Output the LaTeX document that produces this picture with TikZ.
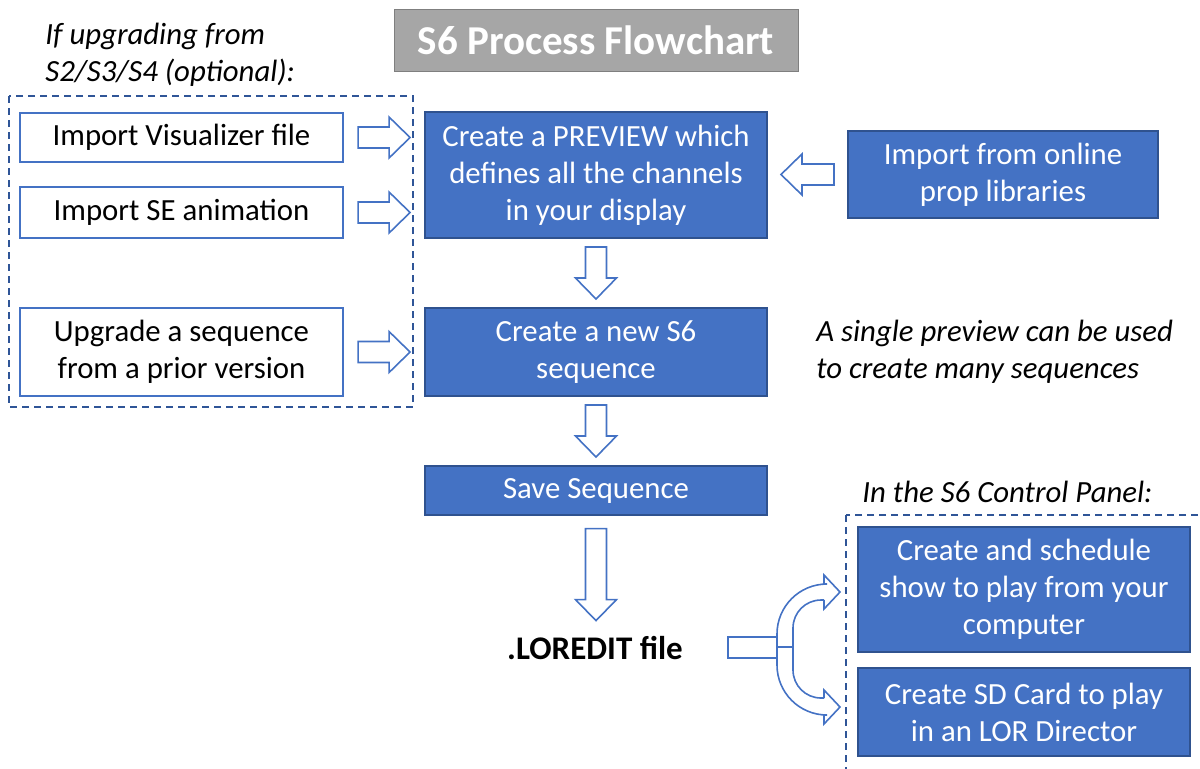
\documentclass[tikz,border=0pt]{standalone}
\usepackage{fontspec}
\setmainfont{Carlito}
\usetikzlibrary{calc}
\definecolor{accent}{RGB}{68,114,196}
\definecolor{accentdark}{RGB}{47,82,143}
\definecolor{framecol}{RGB}{47,85,151}
\definecolor{titlegray}{RGB}{166,166,166}
\definecolor{titleedge}{RGB}{127,127,127}
\tikzset{
  every node/.style={
    font=\fontsize{15.4}{18.5}\selectfont, align=center, inner sep=0pt
  },
  bluebox/.style={draw=accentdark, line width=0.6pt, fill=accent, text=white},
  whitebox/.style={draw=accent, line width=0.7pt, fill=white, text=black},
  dashframe/.style={draw=framecol, line width=0.7pt, dash pattern=on 3.5pt off 2.5pt},
  note/.style={font=\fontsize{15.4}{18.5}\selectfont\itshape, align=left, anchor=west},
  arrowline/.style={draw=accent, line width=0.8pt, fill=white, line join=miter},
  pics/hollow/.style={code={
    \draw[arrowline] (-#1/2,-10.5) -- (#1/2-21,-10.5) -- (#1/2-21,-20.5) -- (#1/2,0)
      -- (#1/2-21,20.5) -- (#1/2-21,10.5) -- (-#1/2,10.5) -- cycle;
  }}
}

\begin{document}
\begin{tikzpicture}[x=0.5pt, y=-0.5pt]
    \useasboundingbox (0,0) rectangle (1200,768);
    \clip (0,0) rectangle (1200,768);
    %\draw[gray, very thin] (0,0) grid[step=100] (1200,768);
    \node[draw=titleedge, fill=titlegray, text=white, minimum width=202pt, minimum height=31pt,
      font=\fontsize{20.5}{24}\selectfont\bfseries] (title) at (596,40) {S6 Process Flowchart};
    \node[note] (upgradenote) at (45,54.5) {If upgrading from\\S2/S3/S4 (optional):};
    \draw[dashframe] (9,96) rectangle (413,407);
    \draw[dashframe] (846,515) rectangle (1215,790);
    \node[whitebox, minimum width=161.5pt, minimum height=24.5pt] (visualizer) at (181.5,137.5) {Import Visualizer file};
    \node[whitebox, minimum width=161.5pt, minimum height=25.5pt] (seanim) at (181.5,212.5) {Import SE animation};
    \node[whitebox, minimum width=161.5pt, minimum height=44pt] (upgrade) at (181.5,352) {Upgrade a sequence\\from a prior version};
    \node[bluebox, minimum width=171pt, minimum height=63pt] (preview) at (596,175) {Create a PREVIEW which\\defines all the channels\\in your display};
    \node[bluebox, minimum width=171pt, minimum height=44pt] (newseq) at (596,352) {Create a new S6\\sequence};
    \node[bluebox, minimum width=171pt, minimum height=24.5pt] (save) at (596,490.5) {Save Sequence};
    \node[bluebox, minimum width=155pt, minimum height=43.5pt] (online) at (1003,174.5) {Import from online\\prop libraries};
    \node[bluebox, minimum width=166pt, minimum height=62.5pt] (schedule) at (1024,589.5) {Create and schedule\\show to play from your\\computer};
    \node[bluebox, minimum width=166pt, minimum height=44pt] (sdcard) at (1024,712) {Create SD Card to play\\in an LOR Director};
    \node[note] (singlenote) at (816,352) {A single preview can be used\\to create many sequences};
    \node[note] (panelnote) at (862,492) {In the S6 Control Panel:};
    \node[font=\fontsize{16.5}{20}\selectfont\bfseries] (loredit) at (595,648) {.LOREDIT file};
    % hollow block arrows
    \pic at ($(visualizer.east)!0.5!(visualizer.east -| preview.west)$) {hollow=52};
    \pic at ($(seanim.east)!0.5!(seanim.east -| preview.west)$) {hollow=52};
    \pic at ($(upgrade.east)!0.5!(newseq.west)$) {hollow=52};
    \pic[rotate=180] at ($(online.west)!0.5!(online.west -| preview.east)$) {hollow=53};
    \pic[rotate=-90] at ($(preview.south)!0.5!(newseq.north)$) {hollow=52};
    \pic[rotate=-90] at ($(newseq.south)!0.5!(save.north)$) {hollow=52};
    \pic[rotate=-90] at ($(save.south)+(0,59)$) {hollow=92};
    % split arrow from the file to both panel tasks
    \coordinate (fork) at (777,647);
    \begin{scope}[shift={(fork)}]
      \draw[arrowline] (-49,-10) rectangle (0,11);
      \draw[arrowline, fill=none, rounded corners=25] (0,0) -- (0,-63) -- (47,-63);
      \draw[arrowline, fill=none] (47,-63) -- (47,-72) -- (63,-55) -- (47,-38) -- (47,-47);
      \draw[arrowline, fill=none, rounded corners=14] (47,-47) -- (16,-47) -- (16,51) -- (47,51);
      \draw[arrowline, fill=none] (47,51) -- (47,43) -- (63,60) -- (47,77) -- (47,68);
      \draw[arrowline, fill=none, rounded corners=25] (47,68) -- (0,68) -- (0,0);
      \draw[arrowline] (0,0) -- (16,0);
    \end{scope}
\end{tikzpicture}
\end{document}
